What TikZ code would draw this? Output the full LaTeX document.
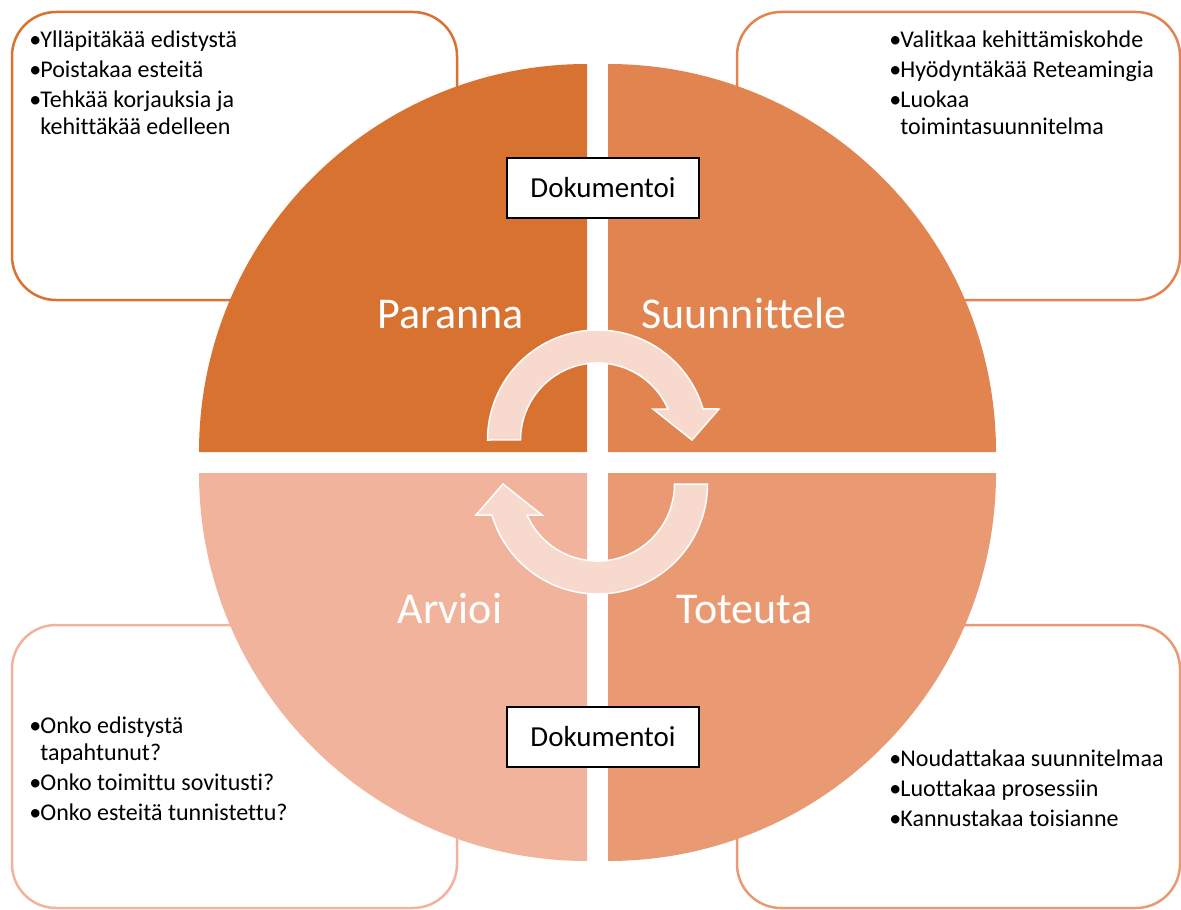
\documentclass[tikz,border=0pt]{standalone}
\usepackage{fontspec}
\setmainfont{Carlito}[Ligatures=NoCommon]
\usepackage{tikz}
\usetikzlibrary{positioning}

\definecolor{tumma}{RGB}{215,114,48}
\definecolor{keski}{RGB}{226,132,79}
\definecolor{vaalea}{RGB}{234,154,115}
\definecolor{vaalein}{RGB}{241,179,155}
\definecolor{nuoli}{RGB}{248,217,206}

\tikzset{
    laatikko/.style={line width=1.25pt, rounded corners=22pt},
    lista/.style={inner sep=0pt, anchor=base west, align=left, font=\fontsize{12}{13.5}\selectfont},
    otsikko/.style={inner sep=0pt, anchor=base, text=white, font=\fontsize{22}{26}\selectfont},
    doku/.style={draw=black, fill=white, line width=0.6pt, minimum width=96pt, minimum height=30pt, font=\fontsize{14.5}{17}\selectfont},
    kaari/.style={fill=nuoli, draw=white, line width=0.75pt}
}
\newcommand{\pallo}{\makebox[5.5pt][l]{•}}
\newcommand{\kiertonuoli}{%
    (487.5,440) arc[start angle=180, end angle=343.6, radius=110]
    -- (719,409) -- (692,440) -- (653,409) -- (668,409)
    arc[start angle=336.3, end angle=180, radius=77] -- cycle}

\begin{document}
\begin{tikzpicture}[x=0.5pt, y=-0.5pt]
    \useasboundingbox (0,0) rectangle (1181,909);

    % laatikot
    \draw[laatikko, draw=tumma] (12,12) rectangle (457,300);
    \draw[laatikko, draw=keski] (737,12) rectangle (1180,300);
    \draw[laatikko, draw=vaalein] (12,625) rectangle (457,908);
    \draw[laatikko, draw=vaalea] (737,625) rectangle (1180,908);

    % ympyrän neljännekset
    \fill[tumma] (587,452) -- (199,452) arc[start angle=180, end angle=270, radius=388] -- cycle;
    \fill[keski] (608,452) -- (608,64) arc[start angle=270, end angle=360, radius=388] -- cycle;
    \fill[vaalea] (608,473) -- (996,473) arc[start angle=0, end angle=90, radius=388] -- cycle;
    \fill[vaalein] (587,473) -- (587,861) arc[start angle=90, end angle=180, radius=388] -- cycle;

    % nuolet
    \draw[kaari] \kiertonuoli;
    \begin{scope}[rotate around={180:(597.5,462)}]
        \draw[kaari] \kiertonuoli;
    \end{scope}

    \node[otsikko] (paranna) at (450.5,328) {Paranna};
    \node[otsikko] (suunnittele) at (744,328) {Suunnittele};
    \node[otsikko] (arvioi) at (450,623) {Arvioi};
    \node[otsikko] (toteuta) at (744.5,623) {Toteuta};

    \node[doku] (doku1) at (603,188) {Dokumentoi};
    \node[doku] (doku2) at (603,737) {Dokumentoi};

    % listat: ankkuri on viimeisen rivin perusviivalla
    \node[lista] (parannalista) at (29,135) {\pallo Ylläpitäkää edistystä\\[1.5pt]
        \pallo Poistakaa esteitä\\[1.5pt]
        \pallo Tehkää korjauksia ja\\
        \hspace*{5.5pt}kehittäkää edelleen};
    \node[lista] (suunnittelelista) at (889,135) {\pallo Valitkaa kehittämiskohde\\[1.5pt]
        \pallo Hyödyntäkää Reteamingia\\[1.5pt]
        \pallo Luokaa\\
        \hspace*{5.5pt}toimintasuunnitelma};
    \node[lista] (arvioilista) at (29,820) {\pallo Onko edistystä\\
        \hspace*{5.5pt}tapahtunut?\\[1.5pt]
        \pallo Onko toimittu sovitusti?\\[1.5pt]
        \pallo Onko esteitä tunnistettu?};
    \node[lista] (toteutalista) at (889,826) {\pallo Noudattakaa suunnitelmaa\\[1.5pt]
        \pallo Luottakaa prosessiin\\[1.5pt]
        \pallo Kannustakaa toisianne};
\end{tikzpicture}
\end{document}
